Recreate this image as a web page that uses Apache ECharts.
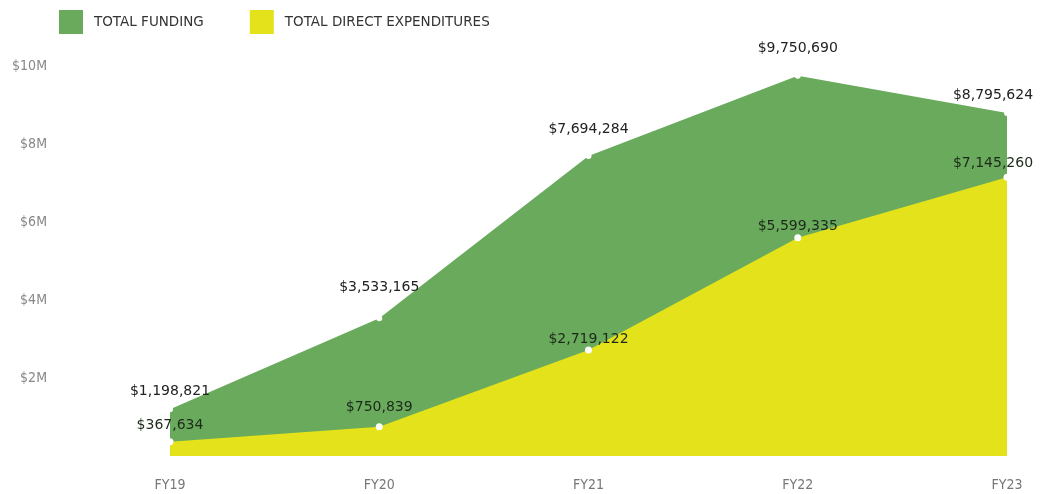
<!DOCTYPE html>
<html>
<head>
<meta charset="utf-8">
<script src="https://cdn.jsdelivr.net/npm/echarts@6/dist/echarts.min.js"></script>
<style>
  html, body { margin: 0; padding: 0; background: #fff; }
  #chart { width: 1047px; height: 494px; }
</style>
</head>
<body>
<div id="chart"></div>
<script>
const years = ['FY19', 'FY20', 'FY21', 'FY22', 'FY23'];
const totalFunding = [1198821, 3533165, 7694284, 9750690, 8795624];
const directExpenditures = [367634, 750839, 2719122, 5599335, 7145260];

const chart = echarts.init(document.getElementById('chart'));

const fontFamily = '"DejaVu Sans Condensed", "Roboto", sans-serif';
const labelFont = '"DejaVu Sans", "Roboto", sans-serif';
const green = '#69aa5d';
const yellow = '#e3e21b';

const money = (v) => '$' + v.toLocaleString('en-US');

// label nudges so the value texts sit where the original placed them
const fundingLabelGap = [8, 21, 17, 17, 8];
const spendLabelGap = [6, 9, 0, 1, 3];

const withLabels = (values, gaps) => values.map((v, i) => ({
  value: v,
  label: {
    distance: gaps[i],
    offset: i === values.length - 1 ? [-14, 0] : [0, 0]
  }
}));

const option = {
  animation: false,
  legend: {
    left: 59,
    top: 10,
    padding: 0,
    itemWidth: 24,
    itemHeight: 24,
    itemGap: 46,
    textStyle: { fontFamily: labelFont, fontSize: 13.5, color: '#333', padding: [0, 0, 0, 6] },
    data: [
      { name: 'TOTAL FUNDING', icon: 'rect', itemStyle: { color: green } },
      { name: 'TOTAL DIRECT EXPENDITURES', icon: 'rect', itemStyle: { color: yellow } }
    ]
  },
  grid: { left: 170, right: 40, top: 66, bottom: 38 },
  xAxis: {
    type: 'category',
    data: years,
    boundaryGap: false,
    axisLine: { show: false },
    axisTick: { show: false },
    axisLabel: { margin: 22, color: '#777', fontFamily, fontSize: 14 }
  },
  yAxis: {
    type: 'value',
    min: 0,
    max: 10000000,
    interval: 2000000,
    splitLine: { show: false },
    axisLabel: {
      margin: 123,
      color: '#888',
      fontFamily,
      fontSize: 14,
      formatter: (v) => v === 0 ? '' : '$' + (v / 1000000) + 'M'
    }
  },
  series: [
    {
      name: 'TOTAL FUNDING',
      type: 'line',
      data: withLabels(totalFunding, fundingLabelGap),
      color: green,
      lineStyle: { width: 0 },
      areaStyle: { color: green, opacity: 1 },
      symbol: 'circle',
      symbolSize: 6,
      itemStyle: { color: '#fff' },
      label: {
        show: true,
        position: 'top',
        color: '#222',
        fontFamily: labelFont,
        fontSize: 14,
        formatter: (p) => money(p.value)
      }
    },
    {
      name: 'TOTAL DIRECT EXPENDITURES',
      type: 'line',
      data: withLabels(directExpenditures, spendLabelGap),
      color: yellow,
      lineStyle: { width: 0 },
      areaStyle: { color: yellow, opacity: 1 },
      symbol: 'circle',
      symbolSize: 7,
      itemStyle: { color: '#fff' },
      label: {
        show: true,
        position: 'top',
        color: '#1d2a1a',
        fontFamily: labelFont,
        fontSize: 14,
        formatter: (p) => money(p.value)
      }
    }
  ]
};

chart.setOption(option);
</script>
</body>
</html>
